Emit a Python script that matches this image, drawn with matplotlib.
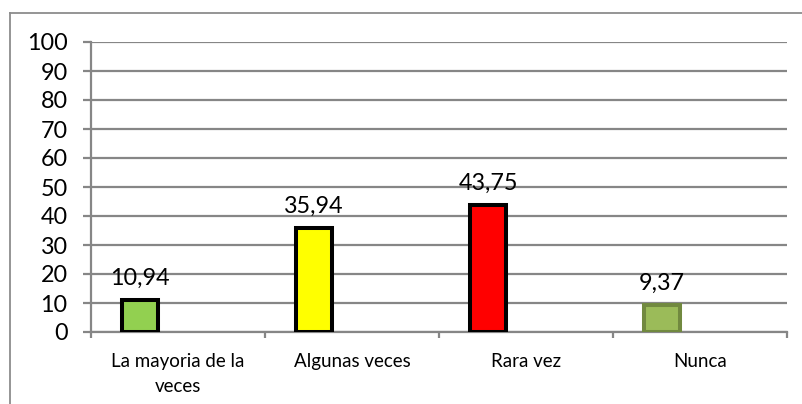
import matplotlib
matplotlib.use("Agg")
import matplotlib.pyplot as plt
from matplotlib.lines import Line2D

categories = ["La mayoria de la\nveces", "Algunas veces", "Rara vez", "Nunca"]
values = [10.94, 35.94, 43.75, 9.37]
value_labels = ["10,94", "35,94", "43,75", "9,37"]
fill_colors = ["#92D050", "#FFFF00", "#FF0000", "#9BBB59"]
edge_colors = ["#000000", "#000000", "#000000", "#71893F"]
yticks = [0, 10, 20, 30, 40, 50, 60, 70, 80, 90, 100]

plt.rcParams['font.family'] = ['Lato', 'DejaVu Sans']

fig = plt.figure(figsize=(8.03, 4.04), dpi=100)
ax = fig.add_axes([91/803, 1-332/404, (787-91)/803, (332-42)/404])

grid_c = "#868686"
x = list(range(len(categories)))
offset = -0.218
bx = [i + offset for i in x]
ax.bar(bx, values, width=0.205, color=fill_colors, edgecolor=edge_colors,
       linewidth=2.9, zorder=3)

for xi, v, lab in zip(bx, values, value_labels):
    ax.annotate(lab, (xi, v), xytext=(0, 11), textcoords="offset points",
                ha="center", va="baseline", fontsize=16.8, color="#000000")

ax.set_xlim(-0.5, 3.5)
ax.set_ylim(0, 100)
ax.set_yticks(yticks)
ax.set_yticklabels([str(t) for t in yticks], fontsize=16.8)
ax.yaxis.grid(True, color=grid_c, linewidth=1.6, zorder=0)
ax.set_axisbelow(True)
ax.tick_params(axis="y", direction="out", length=5.8, width=1.6, color=grid_c, pad=11)

ax.set_xticks(x)
ax.set_xticklabels(categories, fontsize=13.5, linespacing=1.55)
ax.set_xticks([-0.5, 0.5, 1.5, 2.5, 3.5], minor=True)
ax.tick_params(axis="x", which="major", length=0, pad=15)
ax.tick_params(axis="x", which="minor", direction="out", length=4.5, width=1.6, color=grid_c)

for s in ["top", "right"]:
    ax.spines[s].set_visible(False)
for s in ["left", "bottom"]:
    ax.spines[s].set_color(grid_c)
    ax.spines[s].set_linewidth(1.6)

# outer chart frame (left and top edges visible)
fig.add_artist(Line2D([10.5/803, 10.5/803], [0, 1-13/404], transform=fig.transFigure,
                      color="#8C8C8C", linewidth=1.3))
fig.add_artist(Line2D([10.5/803, 1], [1-13/404, 1-13/404], transform=fig.transFigure,
                      color="#8C8C8C", linewidth=1.3))

fig.savefig("out.png", dpi=100)
